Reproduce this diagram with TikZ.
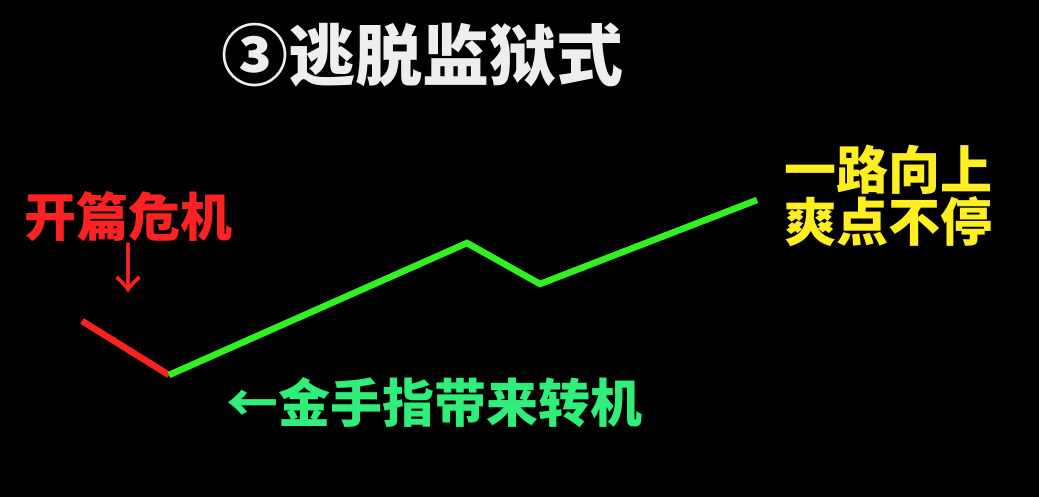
\documentclass[tikz,border=0pt]{standalone}
\usepackage{fontspec}
\newfontfamily\cjk{Noto Sans CJK SC}
\definecolor{redc}{HTML}{FF2222}
\definecolor{linegreen}{HTML}{33F022}
\definecolor{textgreen}{HTML}{30EE7A}
\definecolor{yel}{HTML}{FFEE22}
\definecolor{titlec}{HTML}{EEEEEE}
\tikzset{
  lbl/.style={inner sep=0pt, font=\cjk\bfseries\fontsize{52}{56}\selectfont},
  seg/.style={line width=6.5pt, line cap=butt, line join=miter}
}
\begin{document}
\begin{tikzpicture}[x=1pt,y=-1pt]
\fill[black] (0,0) rectangle (1039,497);
\useasboundingbox (0,0) rectangle (1039,497);
\node[lbl, text=titlec, font=\cjk\bfseries\fontsize{67}{70}\selectfont] (title) at (422,55) {③逃脱监狱式};
\node[lbl, text=redc] (crisis) at (128,217) {开篇危机};
\node[lbl, text=redc, font=\cjk\fontsize{54}{56}\selectfont] (down) at (128,268) {↓};
\node[lbl, text=textgreen] (gold) at (434,403) {←金手指带来转机};
\node[lbl, text=yel, align=center, font=\cjk\bfseries\fontsize{52}{52}\selectfont] (up) at (888,196) {一路向上\\爽点不停};
\coordinate (p0) at (82,321);
\coordinate (p1) at (169,375);
\coordinate (p2) at (467,243);
\coordinate (p3) at (540,284);
\coordinate (p4) at (757,200);
\draw[seg, redc] (p0) -- (p1);
\draw[seg, linegreen] (p1) -- (p2) -- (p3) -- (p4);
\end{tikzpicture}
\end{document}
